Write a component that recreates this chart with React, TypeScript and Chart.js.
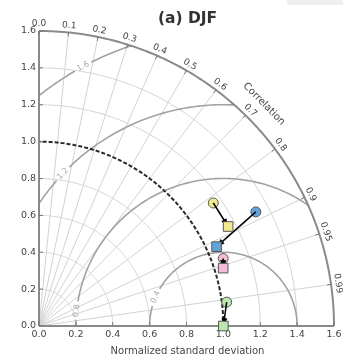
import React, { useEffect, useRef } from "react";
import { Chart, registerables } from "chart.js";

Chart.register(...registerables);

// ---- data (normalized std, correlation) ----
const circleStd = [1.157, 1.329, 1.064, 1.026];
const circleCorr = [0.817, 0.885, 0.939, 0.992];
const squareStd = [1.159, 1.055, 1.047, 1.0];
const squareCorr = [0.885, 0.913, 0.954, 1.0];
const markerColors = ["#f2ea8e", "#62a3da", "#f5bcd9", "#bde5ae"];

const stdTicks = [0, 0.2, 0.4, 0.6, 0.8, 1.0, 1.2, 1.4, 1.6];
const stdGrid = [0.2, 0.4, 0.6, 0.8, 1.2, 1.4];
const corrTicks = [0, 0.1, 0.2, 0.3, 0.4, 0.5, 0.6, 0.7, 0.8, 0.9, 0.95, 0.99];
const corrTickLabels = ["0.0", "0.1", "0.2", "0.3", "0.4", "0.5", "0.6", "0.7", "0.8", "0.9", "0.95", "0.99"];
const rmsLevels = [0.4, 0.8, 1.2, 1.6];
const rmsLabels = ["0.4", "0.8", "1.2", "1.6"];
const STD_MAX = 1.6;
const REF_STD = 1.0;

const titleText = "(a) DJF";
const xTitle = "Normalized standard deviation";
const corrTitle = "Correlation";

// label placement angles (deg, around the reference point)
const rmsLabelAngle = [157, 174, 136.5, 118.4];

const FONT = "'DejaVu Sans', sans-serif";

const toXY = (s: number, c: number) => ({ x: s * c, y: s * Math.sqrt(Math.max(0, 1 - c * c)) });

const taylorPlugin = {
  id: "taylorGrid",
  beforeDatasetsDraw(chart: any) {
    const ctx: CanvasRenderingContext2D = chart.ctx;
    const xs = chart.scales.x;
    const ys = chart.scales.y;
    const P = (x: number, y: number): [number, number] => [xs.getPixelForValue(x), ys.getPixelForValue(y)];
    const arcPts = (cx: number, cy: number, r: number, a0: number, a1: number, n = 160) => {
      const pts: [number, number][] = [];
      for (let i = 0; i <= n; i++) {
        const a = a0 + ((a1 - a0) * i) / n;
        pts.push(P(cx + r * Math.cos(a), cy + r * Math.sin(a)));
      }
      return pts;
    };
    const poly = (pts: [number, number][]) => {
      ctx.beginPath();
      pts.forEach(([x, y], i) => (i ? ctx.lineTo(x, y) : ctx.moveTo(x, y)));
      ctx.stroke();
    };
    const [ox, oy] = P(0, 0);
    const Rpx = xs.getPixelForValue(STD_MAX) - ox;

    ctx.save();
    // std arcs (light)
    ctx.strokeStyle = "#d2d2d2";
    ctx.lineWidth = 1;
    stdGrid.forEach((s) => poly(arcPts(0, 0, s, 0, Math.PI / 2)));
    // correlation radial lines
    corrTicks.slice(1).forEach((c) => {
      const e = toXY(STD_MAX, c);
      poly([P(0, 0), P(e.x, e.y)]);
    });

    // RMS contours (clipped to the quarter disc)
    ctx.save();
    ctx.beginPath();
    const clipPts = [P(0, 0), ...arcPts(0, 0, STD_MAX, 0, Math.PI / 2)];
    clipPts.forEach(([x, y], i) => (i ? ctx.lineTo(x, y) : ctx.moveTo(x, y)));
    ctx.closePath();
    ctx.clip();
    ctx.strokeStyle = "#a2a2a2";
    ctx.lineWidth = 1.6;
    ctx.font = `8px ${FONT}`;
    rmsLevels.forEach((r, i) => {
      const rpx = r * (xs.getPixelForValue(1) - ox);
      const w = ctx.measureText(rmsLabels[i]).width;
      const gap = (w / 2 + 3) / rpx;
      const phi = (rmsLabelAngle[i] * Math.PI) / 180;
      poly(arcPts(REF_STD, 0, r, 0, phi - gap));
      poly(arcPts(REF_STD, 0, r, phi + gap, Math.PI));
    });
    ctx.restore();
    // RMS labels
    ctx.fillStyle = "#a9a9a9";
    ctx.font = `8px ${FONT}`;
    ctx.textAlign = "center";
    ctx.textBaseline = "middle";
    rmsLevels.forEach((r, i) => {
      const phi = (rmsLabelAngle[i] * Math.PI) / 180;
      const [lx, ly] = P(REF_STD + r * Math.cos(phi), r * Math.sin(phi));
      ctx.save();
      ctx.translate(lx, ly);
      ctx.rotate(-(phi - Math.PI / 2));
      ctx.fillText(rmsLabels[i], 0, 0);
      ctx.restore();
    });

    // reference std arc (dashed)
    ctx.strokeStyle = "#2a2a2a";
    ctx.lineWidth = 2;
    ctx.setLineDash([4, 2]);
    poly(arcPts(0, 0, REF_STD, 0, Math.PI / 2));
    ctx.setLineDash([]);

    // axes
    ctx.strokeStyle = "#8a8a8a";
    ctx.lineWidth = 2;
    poly([P(0, 0), P(STD_MAX, 0)]);
    poly([P(0, 0), P(0, STD_MAX)]);
    poly(arcPts(0, 0, STD_MAX, 0, Math.PI / 2, 240));

    // ticks
    ctx.lineWidth = 1;
    ctx.strokeStyle = "#777";
    stdTicks.forEach((s) => {
      const [x] = P(s, 0);
      poly([[x, oy], [x, oy - 4]]);
      const [, y] = P(0, s);
      poly([[ox, y], [ox + 4, y]]);
    });
    corrTicks.forEach((c) => {
      const a = Math.acos(c);
      poly([
        [ox + Rpx * Math.cos(a), oy - Rpx * Math.sin(a)],
        [ox + (Rpx - 4) * Math.cos(a), oy - (Rpx - 4) * Math.sin(a)],
      ]);
    });

    // tick labels
    ctx.fillStyle = "#444";
    ctx.font = `9.5px ${FONT}`;
    ctx.textBaseline = "middle";
    stdTicks.forEach((s) => {
      const [x] = P(s, 0);
      ctx.textAlign = "center";
      ctx.fillText(s.toFixed(1), x, oy + 9);
      const [, y] = P(0, s);
      ctx.textAlign = "right";
      ctx.fillText(s.toFixed(1), ox - 3, y);
    });
    ctx.font = `9px ${FONT}`;
    ctx.textAlign = "center";
    corrTicks.forEach((c, i) => {
      const a = Math.acos(c);
      const rr = Rpx + 7;
      ctx.save();
      ctx.translate(ox + rr * Math.cos(a), oy - rr * Math.sin(a));
      ctx.rotate(Math.PI / 2 - a);
      ctx.fillText(corrTickLabels[i], 0, 0);
      ctx.restore();
    });

    // titles
    ctx.font = `10px ${FONT}`;
    ctx.fillStyle = "#444";
    ctx.textAlign = "center";
    ctx.fillText(xTitle, ox + Rpx / 2 + 1, oy + 25);
    const ca = (44.6 * Math.PI) / 180;
    const cr = Rpx + 21;
    ctx.save();
    ctx.translate(ox + cr * Math.cos(ca), oy - cr * Math.sin(ca));
    ctx.rotate(Math.PI / 2 - ca);
    ctx.fillText(corrTitle, 0, 0);
    ctx.restore();

    ctx.font = `bold 15.5px ${FONT}`;
    ctx.fillStyle = "#333";
    ctx.fillText(titleText, ox + Rpx / 2 + 1, 19);
    ctx.restore();
  },
  afterDatasetDraw(chart: any, args: any) {
    const ds = chart.data.datasets[args.index];
    if (!ds.isArrow) return;
    const pts = args.meta.data;
    if (!pts || pts.length < 2) return;
    const a = pts[0], b = pts[1];
    const dx = b.x - a.x, dy = b.y - a.y;
    const L = Math.hypot(dx, dy) || 1;
    const ux = dx / L, uy = dy / L;
    const tipX = b.x, tipY = b.y;
    const hl = 8, hw = 3;
    const ctx: CanvasRenderingContext2D = chart.ctx;
    ctx.save();
    ctx.fillStyle = "#000";
    ctx.beginPath();
    ctx.moveTo(tipX, tipY);
    ctx.lineTo(tipX - ux * hl - uy * hw, tipY - uy * hl + ux * hw);
    ctx.lineTo(tipX - ux * hl + uy * hw, tipY - uy * hl - ux * hw);
    ctx.closePath();
    ctx.fill();
    ctx.restore();
  },
};

export default function App() {
  const ref = useRef<HTMLCanvasElement | null>(null);
  useEffect(() => {
    if (!ref.current) return;
    const circles = circleStd.map((s, i) => toXY(s, circleCorr[i]));
    const squares = squareStd.map((s, i) => toXY(s, squareCorr[i]));
    const arrows = circles.map((c, i) => ({
      type: "line",
      data: [c, squares[i]],
      showLine: true,
      borderColor: "#000",
      borderWidth: 1.5,
      pointRadius: 0,
      clip: false,
      isArrow: true,
    }));
    const chart = new Chart(ref.current, {
      type: "scatter",
      data: {
        datasets: [
          {
            data: squares,
            pointStyle: "rect",
            pointRadius: 6.8,
            backgroundColor: markerColors,
            borderColor: "#555",
            borderWidth: 1,
            clip: false,
          } as any,
          ...(arrows as any[]),
          {
            data: circles,
            pointStyle: "circle",
            pointRadius: 5,
            backgroundColor: markerColors,
            borderColor: "#555",
            borderWidth: 1,
            clip: false,
          } as any,
        ],
      },
      options: {
        animation: false,
        responsive: false,
        devicePixelRatio: 1,
        layout: { padding: { left: 39, right: 9, top: 31, bottom: 29 } },
        scales: {
          x: { type: "linear", min: 0, max: STD_MAX, display: false },
          y: { type: "linear", min: 0, max: STD_MAX, display: false },
        },
        plugins: { legend: { display: false }, tooltip: { enabled: false } },
        events: [],
      },
      plugins: [taylorPlugin],
    } as any);
    return () => chart.destroy();
  }, []);
  return (
    <div style={{ position: "fixed", left: 0, top: 0, width: 343, height: 355, background: "#fff" }}>
      <canvas ref={ref} width={343} height={355} style={{ display: "block" }} />
      <div style={{ position: "absolute", left: 287, top: 0, width: 56, height: 5, background: "#efefef" }} />
    </div>
  );
}
